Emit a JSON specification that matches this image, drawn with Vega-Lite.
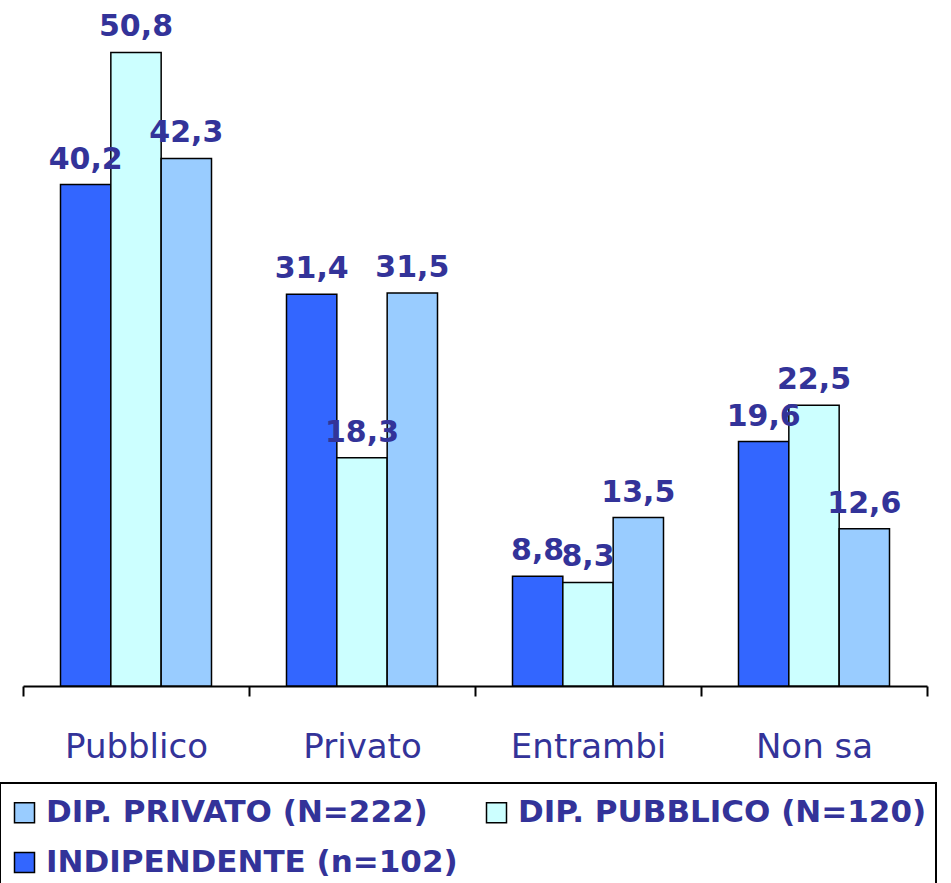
{
  "$schema": "https://vega.github.io/schema/vega-lite/v6.json",
  "width": 904,
  "height": 686,
  "autosize": "none",
  "padding": {"left": 23, "top": 0, "right": 24, "bottom": 197},
  "background": "white",
  "config": {"view": {"stroke": null}},
  "data": {
    "values": [
      {"cat": "Pubblico", "group": "INDIPENDENTE (n=102)", "value": 40.2, "label": "40,2"},
      {"cat": "Pubblico", "group": "DIP. PUBBLICO (N=120)", "value": 50.8, "label": "50,8"},
      {"cat": "Pubblico", "group": "DIP. PRIVATO (N=222)", "value": 42.3, "label": "42,3"},
      {"cat": "Privato", "group": "INDIPENDENTE (n=102)", "value": 31.4, "label": "31,4"},
      {"cat": "Privato", "group": "DIP. PUBBLICO (N=120)", "value": 18.3, "label": "18,3"},
      {"cat": "Privato", "group": "DIP. PRIVATO (N=222)", "value": 31.5, "label": "31,5"},
      {"cat": "Entrambi", "group": "INDIPENDENTE (n=102)", "value": 8.8, "label": "8,8"},
      {"cat": "Entrambi", "group": "DIP. PUBBLICO (N=120)", "value": 8.3, "label": "8,3"},
      {"cat": "Entrambi", "group": "DIP. PRIVATO (N=222)", "value": 13.5, "label": "13,5"},
      {"cat": "Non sa", "group": "INDIPENDENTE (n=102)", "value": 19.6, "label": "19,6"},
      {"cat": "Non sa", "group": "DIP. PUBBLICO (N=120)", "value": 22.5, "label": "22,5"},
      {"cat": "Non sa", "group": "DIP. PRIVATO (N=222)", "value": 12.6, "label": "12,6"}
    ]
  },
  "encoding": {
    "x": {
      "field": "cat", "type": "nominal",
      "sort": ["Pubblico", "Privato", "Entrambi", "Non sa"],
      "scale": {"paddingInner": 0, "paddingOuter": 0},
      "axis": {
        "title": null, "labelAngle": 0, "tickBand": "extent",
        "domainColor": "black", "domainWidth": 2, "tickColor": "black", "tickWidth": 2, "tickSize": 10,
        "labelFont": "DejaVu Sans", "labelFontSize": 34, "labelColor": "#333399", "labelPadding": 34
      }
    },
    "xOffset": {
      "field": "group", "type": "nominal",
      "sort": ["INDIPENDENTE (n=102)", "DIP. PUBBLICO (N=120)", "DIP. PRIVATO (N=222)"],
      "scale": {"paddingInner": 0, "paddingOuter": 0.745}
    },
    "y": {
      "field": "value", "type": "quantitative",
      "scale": {"domain": [0, 55], "nice": false},
      "axis": null
    }
  },
  "layer": [
    {
      "mark": {"type": "bar", "stroke": "black", "strokeWidth": 1.5},
      "encoding": {
        "color": {
          "field": "group", "type": "nominal",
          "scale": {
            "domain": ["DIP. PRIVATO (N=222)", "DIP. PUBBLICO (N=120)", "INDIPENDENTE (n=102)"],
            "range": ["#99CCFF", "#CCFFFF", "#3366FF"]
          },
          "legend": {
            "title": " ", "titleFontSize": 5, "titlePadding": 0,
            "orient": "none", "legendX": -23, "legendY": 783,
            "direction": "horizontal", "columns": 2, "columnPadding": 23, "rowPadding": 18,
            "padding": 9, "strokeColor": "black", "fillColor": "white",
            "symbolType": "square", "symbolSize": 400, "symbolStrokeColor": "black", "symbolStrokeWidth": 1.5,
            "labelFont": "DejaVu Sans", "labelFontSize": 31, "labelFontWeight": "bold", "labelColor": "#333399",
            "labelOffset": 6, "labelLimit": 600,
            "encode": {"legend": {"update": {"strokeWidth": {"value": 2}}}}
          }
        }
      }
    },
    {
      "mark": {"type": "text", "baseline": "alphabetic", "dy": -16, "font": "DejaVu Sans", "fontSize": 30, "fontWeight": "bold", "color": "#333399"},
      "encoding": {"text": {"field": "label"}}
    }
  ]
}
